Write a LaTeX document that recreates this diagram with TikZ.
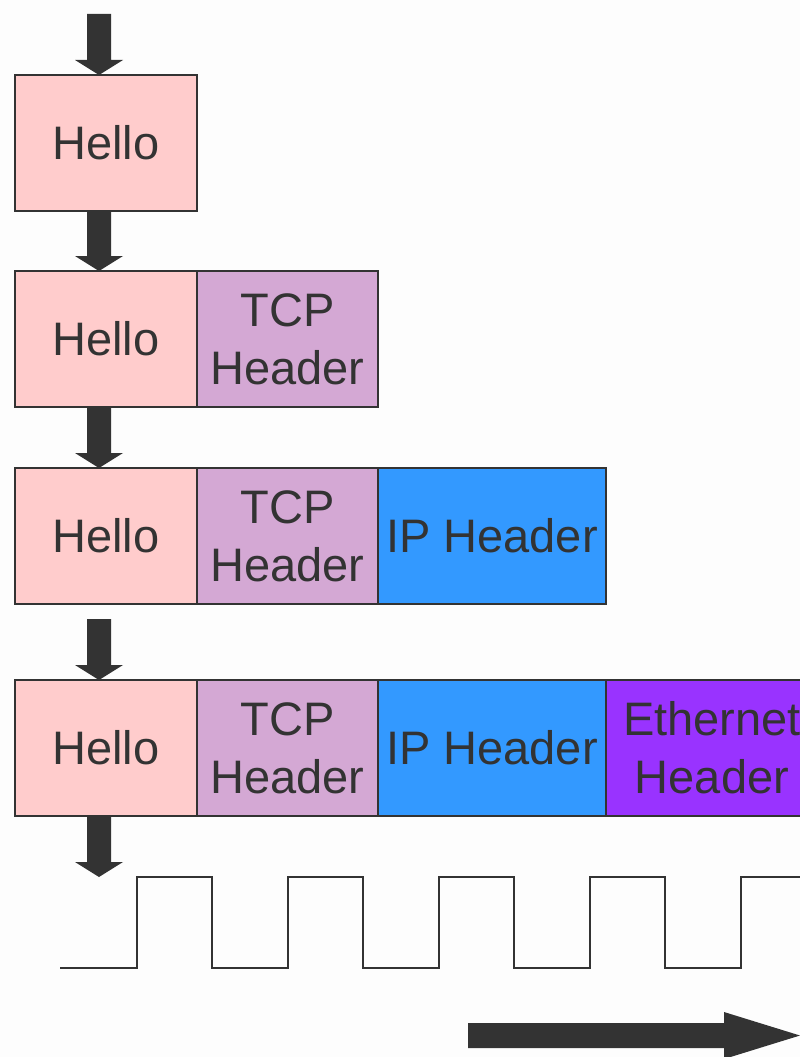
\documentclass[tikz,border=0pt]{standalone}
\usepackage{fontspec}
\setmainfont{Liberation Sans}
\usetikzlibrary{calc}
\definecolor{ink}{HTML}{333333}
\definecolor{bg}{HTML}{FDFDFD}
\definecolor{hellofill}{HTML}{FFCCCC}
\definecolor{tcpfill}{HTML}{D4A8D4}
\definecolor{ipfill}{HTML}{3399FF}
\definecolor{ethfill}{HTML}{9933FF}
% vertical block arrow from #1 down to #2 (tip at #2)
\newcommand\downblock[2]{%
  \fill[ink] let \p1=(#1), \p2=(#2) in
    (\x1-12pt,\y1) -- (\x1+12pt,\y1) -- (\x1+12pt,\y2+15pt) -- (\x1+24pt,\y2+15pt)
    -- (\x1,\y2) -- (\x1-24pt,\y2+15pt) -- (\x1-12pt,\y2+15pt) -- cycle;}
\begin{document}
\begin{tikzpicture}[x=1pt,y=-1pt,
  pkt/.style={draw=ink, line width=1.5pt, inner sep=0pt, outer sep=0pt, minimum height=136pt,
    text=ink, font=\fontsize{47}{58}\selectfont, align=center, anchor=north west},
  hello/.style={pkt, fill=hellofill, minimum width=182pt},
  tcp/.style={pkt, fill=tcpfill, minimum width=181pt},
  ipbox/.style={pkt, fill=ipfill, minimum width=228pt},
  eth/.style={pkt, fill=ethfill, minimum width=212pt},
  wave/.style={draw=ink, line width=2pt}
]
\fill[bg] (0,0) rectangle (800,1057);
\useasboundingbox (0,0) rectangle (800,1057);

% row 1
\node[hello] (h1) at (15,75) {Hello};
% row 2
\node[hello] (h2) at (15,271) {Hello};
\node[tcp] (t2) at (h2.north east) {TCP\\Header};
% row 3
\node[hello] (h3) at (15,468) {Hello};
\node[tcp] (t3) at (h3.north east) {TCP\\Header};
\node[ipbox] (i3) at (t3.north east) {IP Header};
% row 4
\node[hello] (h4) at (15,680) {Hello};
\node[tcp] (t4) at (h4.north east) {TCP\\Header};
\node[ipbox] (i4) at (t4.north east) {IP Header};
\node[eth] (e4) at (i4.north east) {Ethernet\\Header};

% arrows
\coordinate (a0) at (99,14);
\coordinate (a3) at (99,619);
\coordinate (w0) at (99,877);
\downblock{a0}{$(h1.north)+(-7,0)$}
\downblock{$(h1.south)+(-7,0)$}{$(h2.north)+(-7,0)$}
\downblock{$(h2.south)+(-7,0)$}{$(h3.north)+(-7,0)$}
\downblock{a3}{$(h4.north)+(-7,0)$}
\downblock{$(h4.south)+(-7,0)$}{w0}

% square wave
\draw[wave] (60,968) -| (137,877) -| (212,968) -| (288,877) -| (363,968)
  -| (439,877) -| (514,968) -| (590,877) -| (665,968) -| (741,877) -- (802,877);

% bottom arrow
\coordinate (b0) at (468,1035.5);
\coordinate (b1) at (800,1035.5);
\fill[ink] let \p1=(b0), \p2=(b1) in
  (\x1,\y1-12.5pt) -- (\x2-76pt,\y1-12.5pt) -- (\x2-76pt,\y1-23.5pt) -- (\x2,\y2)
  -- (\x2-76pt,\y1+23.5pt) -- (\x2-76pt,\y1+12.5pt) -- (\x1,\y1+12.5pt) -- cycle;
\end{tikzpicture}
\end{document}
